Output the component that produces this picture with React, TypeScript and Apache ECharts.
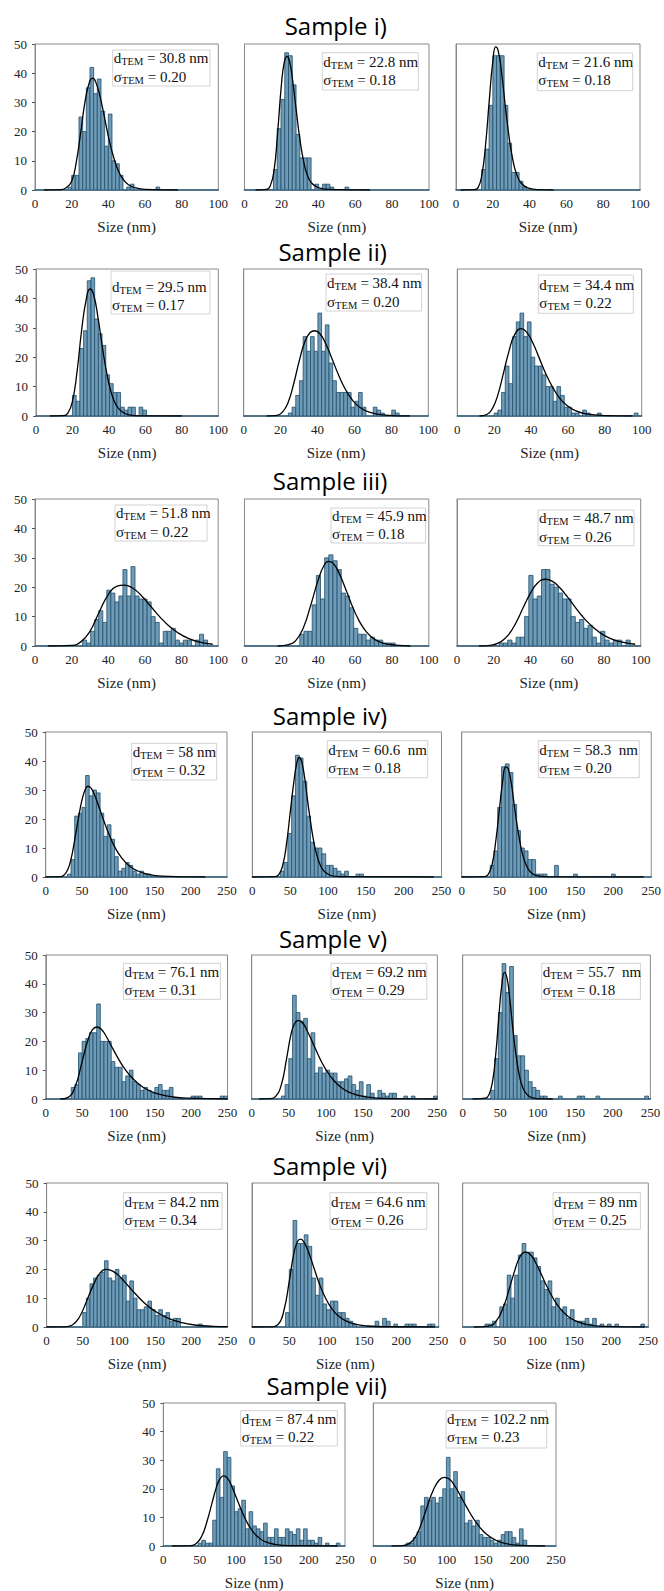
import React, { useEffect, useRef } from 'react';
import * as echarts from 'echarts';

// ---------------- data ----------------
const sampleTitles = ['Sample i)', 'Sample ii)', 'Sample iii)', 'Sample iv)', 'Sample v)', 'Sample vi)', 'Sample vii)'];
const xMaxByRow = [100, 100, 100, 250, 250, 250, 250];
const xIntervalByRow = [20, 20, 20, 50, 50, 50, 50];
const yMax = 50;
const yInterval = 10;
const xName = 'Size (nm)';

const dTEM = ['30.8 nm', '22.8 nm', '21.6 nm', '29.5 nm', '38.4 nm', '34.4 nm', '51.8 nm', '45.9 nm', '48.7 nm',
  '58 nm', '60.6  nm', '58.3  nm', '76.1 nm', '69.2 nm', '55.7  nm', '84.2 nm', '64.6 nm', '89 nm', '87.4 nm', '102.2 nm'];
const sigmaTEM = ['0.20', '0.18', '0.18', '0.17', '0.20', '0.22', '0.22', '0.18', '0.26',
  '0.32', '0.18', '0.20', '0.31', '0.29', '0.18', '0.34', '0.26', '0.25', '0.22', '0.23'];

// histogram bins: first bin edge and bin width per panel (nm)
const binStart = [18, 15.7, 13.9, 20, 24.2, 20, 26, 30, 23, 30, 37, 37.5, 35, 40, 37.5, 50, 45, 30, 48, 45];
const binWidth = [2, 2.04, 2.04, 2.03, 2, 2, 2.2, 2.25, 2.3, 5, 5, 5, 5, 5, 5, 5, 5, 5, 5, 5];

const counts_i_a = [1, 5, 5, 25, 20, 35, 42, 33, 38, 27, 15, 26, 10, 9, 5, 0, 1, 2, 0, 0, 0, 0, 0, 0, 1];
const counts_i_b = [7, 21, 31, 47, 46, 36, 19, 11, 11, 11, 0, 2, 0, 2, 2, 1, 0, 0, 0, 1];
const counts_i_c = [7, 14, 29, 46, 46, 46, 29, 16, 6, 6, 3, 1];
const counts_ii_a = [7, 5, 23, 29, 46, 47, 33, 28, 24, 14, 11, 8, 8, 3, 2, 3, 3, 0, 3, 2];
const counts_ii_b = [1, 3, 7, 12, 27, 22, 27, 22, 35, 22, 31, 18, 12, 8, 8, 8, 8, 3, 5, 8, 3, 0, 0, 3, 2, 1, 0, 0, 2, 1];
const counts_ii_c = [1, 2, 8, 17, 11, 27, 32, 35, 27, 32, 20, 17, 17, 14, 10, 10, 5, 10, 7, 3, 3, 1, 1, 0, 2, 1, 0, 0, 1, 0, 0, 0, 0, 0, 0, 0, 0, 0, 1];
const counts_iii_a = [2, 1, 5, 9, 12, 8, 19, 18, 15, 17, 26, 17, 27, 17, 16, 16, 15, 10, 8, 1, 5, 5, 6, 2, 1, 2, 2, 0, 2, 4, 2];
const counts_iii_b = [4, 5, 5, 14, 24, 16, 30, 31, 29, 26, 18, 17, 13, 6, 4, 4, 2, 3, 2, 2, 1, 1, 1];
const counts_iii_c = [1, 1, 2, 1, 3, 3, 10, 24, 16, 17, 26, 26, 21, 20, 18, 16, 16, 10, 8, 9, 6, 7, 3, 1, 5, 2, 1, 2, 2, 0, 2];
const counts_iv_a = [1, 6, 21, 22, 24, 35, 28, 30, 29, 22, 14, 18, 13, 7, 2, 3, 5, 4, 2, 1, 2, 1, 1];
const counts_iv_b = [2, 5, 15, 28, 42, 41, 33, 21, 12, 10, 10, 8, 4, 4, 3, 2, 1, 2, 0, 0, 1, 1];
const counts_iv_c = [4, 9, 24, 38, 39, 36, 25, 16, 10, 9, 6, 6, 1, 1, 1, 0, 0, 4, 0, 0, 0, 0, 1, 0, 0, 0, 0, 0, 0, 0, 0, 0, 1];
const counts_v_a = [4, 5, 16, 20, 21, 23, 23, 33, 20, 20, 20, 13, 11, 11, 6, 8, 10, 6, 5, 3, 4, 3, 2, 4, 5, 3, 3, 4, 0, 0, 0, 0, 0, 1, 1, 1, 0, 0, 0, 0, 0, 1, 1];
const counts_v_b = [1, 5, 14, 36, 30, 27, 28, 14, 23, 9, 11, 9, 10, 9, 9, 6, 6, 7, 8, 5, 3, 6, 1, 5, 2, 0, 3, 2, 1, 2, 2, 0, 0, 1, 0, 1, 0, 0, 0, 0, 0, 1];
const counts_v_c = [3, 14, 30, 47, 37, 46, 22, 15, 15, 10, 6, 4, 3, 1, 1, 0, 0, 0, 1, 0, 0, 0, 0, 1, 1, 0, 0, 0, 1, 0, 0, 0, 0, 0, 0, 0, 0, 0, 0, 0, 0, 1];
const counts_vi_a = [5, 10, 15, 17, 18, 19, 23, 17, 16, 20, 17, 18, 9, 16, 10, 6, 6, 7, 9, 6, 4, 6, 4, 5, 2, 3, 3, 0, 0, 0, 0, 0, 1];
const counts_vi_b = [5, 20, 37, 29, 29, 32, 28, 17, 11, 17, 8, 6, 9, 9, 5, 5, 3, 2, 1, 0, 0, 0, 0, 0, 2, 0, 3, 2, 0, 1, 0, 0, 1, 1, 1, 0, 0, 0, 1, 1];
const counts_vi_c = [1, 1, 2, 0, 7, 8, 18, 10, 18, 25, 29, 26, 26, 24, 21, 16, 13, 16, 7, 10, 6, 7, 3, 6, 2, 2, 2, 3, 1, 3, 0, 1, 0, 1, 0, 1, 0, 0, 0, 0, 0, 0, 1];
const counts_vii_a = [1, 2, 1, 1, 9, 27, 17, 33, 31, 21, 12, 13, 16, 6, 12, 7, 6, 5, 8, 3, 3, 6, 3, 3, 6, 5, 4, 6, 2, 6, 2, 2, 1, 3, 0, 1, 0, 0, 1];
const counts_vii_b = [1, 1, 3, 5, 14, 17, 16, 17, 15, 17, 20, 31, 20, 26, 17, 19, 8, 9, 7, 9, 4, 3, 3, 2, 1, 2, 4, 5, 5, 3, 1, 6, 2];

// fitted log-normal curves as [size, count]
const fit_i_a = [[5, 0], [14, 0.1], [17, 0.8], [20, 3], [22.5, 9.5], [25, 20], [27.5, 31], [30, 37.5], [31.5, 38.3], [33, 37.2], [35.5, 32], [38, 24.5], [40.5, 17], [43, 11], [45.5, 6.5], [48, 3.7], [51, 1.8], [55, 0.7], [60, 0.2], [78, 0]];
const fit_i_b = [[6, 0], [12, 0.2], [14, 1.5], [16, 6.5], [18, 20], [20, 36], [21.5, 43.5], [23, 45.8], [24.5, 43.8], [26, 38], [28, 27.5], [30, 17.5], [32, 10], [34, 5.2], [36.5, 2.3], [40, 0.8], [45, 0.2], [68, 0]];
const fit_i_c = [[2.5, 0], [10, 0.1], [12, 0.8], [14, 5], [16, 15], [18, 30], [20, 44], [21.6, 49], [23, 47.5], [25, 39], [27, 27.5], [29, 17.5], [31, 10], [33, 5.3], [35.5, 2.3], [39, 0.7], [44, 0.15], [53, 0]];
const fit_ii_a = [[7.7, 0], [15, 0.1], [17.5, 1], [20, 5], [22.5, 15], [25, 29], [27.5, 39.5], [29.6, 43.2], [31.5, 41.5], [34, 33.5], [36.5, 23], [39, 14], [41.5, 7.5], [44, 3.7], [47, 1.5], [51, 0.4], [57, 0.05], [80, 0]];
const fit_ii_b = [[12.5, 0], [18, 0.2], [21, 1.3], [24, 4.5], [27, 10.8], [30, 18.5], [33, 25], [36, 28.4], [38.6, 29], [41.5, 27.8], [44.5, 24.5], [48, 19.2], [51.5, 13.8], [55, 9.2], [59, 5.3], [63, 2.9], [68, 1.3], [75, 0.4], [90, 0]];
const fit_ii_c = [[12, 0], [16, 0.5], [19, 2.5], [22, 7.2], [25, 14.5], [28, 22], [31, 27.5], [34.5, 29.7], [37.5, 28.6], [41, 24.8], [44.5, 19.6], [48, 14.4], [51.5, 10], [55, 6.5], [59, 3.8], [64, 1.8], [70, 0.7], [80, 0.15], [95, 0]];
const fit_iii_a = [[7, 0], [20, 0.2], [25, 1.4], [30, 5], [35, 11.5], [40, 17.5], [44.5, 20.3], [48.7, 20.7], [53, 19.8], [58, 17.2], [63, 13.6], [68, 10], [73, 6.9], [78, 4.5], [84, 2.5], [90, 1.3], [97, 0.6]];
const fit_iii_b = [[18, 0], [24, 0.5], [28, 2], [32, 6.3], [36, 14], [40, 22.5], [43, 27.2], [45.5, 28.8], [48, 28.2], [51, 25.2], [54.5, 20], [58, 14.3], [62, 8.8], [66, 4.9], [70, 2.5], [75, 1], [82, 0.3], [90, 0]];
const fit_iii_c = [[12, 0], [19, 0.3], [24, 1.5], [28, 3.8], [32, 7.8], [36, 13], [40, 18], [44, 21.5], [48.2, 22.7], [52, 22], [56, 19.8], [60, 16.8], [64, 13.5], [68, 10.3], [72, 7.6], [77, 4.9], [83, 2.7], [90, 1.3], [97, 0.6]];
const fit_iv_a = [[0, 0], [20, 0.1], [25, 0.6], [30, 2.3], [35, 6.3], [40, 12.8], [45, 20], [50, 26.5], [55, 30.5], [58, 31.3], [62, 30.8], [67, 28.5], [73, 24.5], [80, 19.5], [88, 14.3], [96, 10], [105, 6.5], [115, 3.9], [125, 2.3], [140, 1], [160, 0.3], [220, 0]];
const fit_iv_b = [[0, 0], [30, 0.1], [35, 0.8], [40, 3.8], [45, 11], [50, 22], [55, 33], [59, 39.5], [62, 41.2], [65, 40], [69, 34.5], [73, 26.5], [77, 19], [81, 12.5], [85, 7.8], [90, 4], [95, 2], [103, 0.6], [115, 0.1], [240, 0]];
const fit_iv_c = [[0, 0], [30, 0.1], [35, 0.9], [40, 4.2], [45, 12.5], [50, 24], [54, 33], [58, 38], [61, 37.5], [65, 33], [69, 25.5], [73, 18], [77, 11.8], [81, 7.2], [86, 3.6], [92, 1.4], [100, 0.4], [115, 0.05], [240, 0]];
const fit_v_a = [[20, 0], [30, 0.5], [40, 4], [50, 13], [58, 20.5], [64, 24], [70, 25], [76, 24.3], [83, 21.8], [90, 18.5], [98, 14.8], [106, 11.4], [115, 8.4], [125, 5.8], [135, 3.9], [145, 2.6], [158, 1.5], [175, 0.7], [195, 0.3], [250, 0]];
const fit_v_b = [[10, 0], [25, 0.1], [32, 0.8], [40, 5], [47, 14], [53, 22.5], [58, 26.3], [63, 27.3], [69, 26.3], [76, 23], [84, 18.5], [92, 14], [100, 10.2], [110, 6.6], [120, 4.1], [130, 2.5], [145, 1.2], [165, 0.4], [190, 0.1], [250, 0]];
const fit_v_c = [[13, 0], [30, 0.3], [35, 1.5], [40, 6.5], [44, 15.5], [48, 28], [52, 39.5], [55.7, 44], [59, 42], [62, 36.5], [65, 29], [68, 21.5], [72, 13.5], [76, 7.5], [80, 4], [85, 1.8], [92, 0.5], [105, 0.05], [120, 0]];
const fit_vi_a = [[0, 0], [25, 0.05], [35, 0.6], [45, 3.3], [55, 8.8], [65, 14.8], [74, 18.8], [83, 20], [92, 19.3], [102, 17.3], [112, 14.5], [122, 11.7], [132, 9.1], [142, 6.9], [155, 4.7], [170, 2.8], [185, 1.6], [205, 0.7], [230, 0.25], [250, 0.1]];
const fit_vi_b = [[0, 0], [25, 0.05], [35, 0.9], [43, 6], [50, 16], [56, 25.5], [61, 29.7], [65, 30.5], [70, 29.3], [76, 25.8], [83, 20.5], [90, 15.2], [98, 10.3], [106, 6.7], [115, 4], [125, 2.2], [138, 1], [155, 0.35], [180, 0.08], [245, 0]];
const fit_vi_c = [[15, 0], [35, 0.3], [45, 2], [55, 7], [63, 13.5], [70, 19.5], [77, 24.3], [84, 26], [91, 25.2], [98, 22.5], [106, 18.2], [114, 13.8], [122, 9.9], [130, 6.8], [140, 4.1], [152, 2.1], [168, 0.8], [190, 0.2], [245, 0]];
const fit_vii_a = [[12, 0], [35, 0.05], [45, 0.8], [53, 3.5], [60, 8.5], [67, 15], [73, 20.5], [78, 23.5], [83, 24.5], [88, 23.8], [94, 21], [100, 17.2], [107, 12.8], [114, 8.9], [122, 5.5], [130, 3.2], [140, 1.5], [155, 0.5], [175, 0.1], [240, 0]];
const fit_vii_b = [[25, 0], [40, 0.1], [50, 1], [58, 3.3], [66, 8], [74, 14], [82, 19.5], [90, 23], [97, 24], [104, 23.4], [112, 20.8], [120, 17.2], [128, 13.5], [136, 10], [145, 6.8], [155, 4.1], [167, 2.1], [180, 0.9], [200, 0.25], [235, 0]];

const countsList = [counts_i_a, counts_i_b, counts_i_c, counts_ii_a, counts_ii_b, counts_ii_c, counts_iii_a, counts_iii_b, counts_iii_c,
  counts_iv_a, counts_iv_b, counts_iv_c, counts_v_a, counts_v_b, counts_v_c, counts_vi_a, counts_vi_b, counts_vi_c, counts_vii_a, counts_vii_b];
const fitList = [fit_i_a, fit_i_b, fit_i_c, fit_ii_a, fit_ii_b, fit_ii_c, fit_iii_a, fit_iii_b, fit_iii_c,
  fit_iv_a, fit_iv_b, fit_iv_c, fit_v_a, fit_v_b, fit_v_c, fit_vi_a, fit_vi_b, fit_vi_c, fit_vii_a, fit_vii_b];

// ---------------- layout (pixels) ----------------
const rowTop = [44, 269, 499, 732, 955, 1183, 1403];
const rowHeight = [146, 147, 147, 145, 144, 144, 144];
const colLeft = [[35, 244.5, 456], [36, 243.7, 457.3], [35, 244.5, 457], [45.7, 252.3, 461.7], [45.8, 251.7, 462.7], [46.6, 252, 462.7], [163.3, 373.3]];
const colRight = [[218.3, 429, 640], [218.3, 428.3, 641.7], [218.2, 428.8, 640.7], [227, 441.5, 651.7], [227.5, 437.3, 650.4], [227.5, 438.6, 648.3], [345, 556]];
const titleX = [335.8, 332.6, 330, 330, 333, 330, 326.7];
const titleY = [25, 251.7, 480, 715, 938, 1165, 1385];
const boxRect = [
  [112.7, 50, 97.3, 36], [322.3, 52.7, 96, 37.3], [537.3, 53, 95.4, 37.7],
  [111, 271, 99, 43], [326, 274, 95.7, 37], [538.3, 275, 95, 38.3],
  [115, 505, 92, 36], [331, 508, 94.5, 35], [538, 510, 96, 35.7],
  [131.7, 743.3, 85, 36.7], [327.3, 740.7, 100.4, 37], [538.3, 740.7, 101, 37],
  [123.4, 963.3, 97, 36], [331, 963.3, 95.8, 36], [541.7, 963.3, 98.7, 36],
  [123.4, 1192.7, 98.6, 36.6], [330, 1192.7, 96.8, 36.6], [553, 1192.7, 87.4, 36.6],
  [240.7, 1410.7, 96.6, 35.3], [446, 1410.7, 100.7, 37.3],
];
const textLine1Y = [58.3, 61.7, 61.7, 286.7, 283.3, 285, 513.3, 516, 518.3, 751.7, 750, 750, 971.7, 971.7, 971.7, 1201.7, 1201.7, 1201.7, 1419, 1419];

const SERIF = 'Liberation Serif';
const SANS = 'Open Sans';
const BAR_FILL = '#6f9bb6';
const BAR_EDGE = '#214f6d';
const FRAME = '#8a8a8a';

function buildOption() {
  const panelRow: number[] = [];
  const panelCol: number[] = [];
  rowTop.forEach((_, r) => {
    colLeft[r].forEach((_, c) => { panelRow.push(r); panelCol.push(c); });
  });

  const grids: any[] = [];
  const xAxes: any[] = [];
  const yAxes: any[] = [];
  const series: any[] = [];
  const graphics: any[] = [];

  panelRow.forEach((r, i) => {
    const c = panelCol[i];
    const left = colLeft[r][c];
    const width = colRight[r][c] - left;
    grids.push({ left, top: rowTop[r], width, height: rowHeight[r], show: true, borderColor: FRAME, borderWidth: 1, backgroundColor: 'transparent' });
    xAxes.push({
      gridIndex: i, type: 'value', min: 0, max: xMaxByRow[r], interval: xIntervalByRow[r],
      axisLine: { show: true, lineStyle: { color: '#2b5a77', width: 1.5 } },
      axisTick: { show: false },
      splitLine: { show: false },
      axisLabel: { fontFamily: SERIF, fontSize: 13, color: '#222', margin: 7 },
      name: xName, nameLocation: 'middle', nameGap: 29,
      nameTextStyle: { fontFamily: SERIF, fontSize: 15, color: '#222' },
    });
    yAxes.push({
      gridIndex: i, type: 'value', min: 0, max: yMax, interval: yInterval,
      axisLine: { show: true, lineStyle: { color: FRAME, width: 1 } },
      axisTick: { show: c === 0, length: 3, lineStyle: { color: '#555' } },
      splitLine: { show: false },
      axisLabel: { show: c === 0, fontFamily: SERIF, fontSize: 13, color: '#222', margin: 8 },
    });
    const data = countsList[i]
      .map((v, k) => [binStart[i] + k * binWidth[i], binStart[i] + (k + 1) * binWidth[i], v])
      .filter((d) => d[2] > 0);
    series.push({
      type: 'custom', xAxisIndex: i, yAxisIndex: i, clip: true,
      encode: { x: [0, 1], y: 2 },
      data,
      renderItem: (params: any, api: any) => {
        const a = api.coord([api.value(0), api.value(2)]);
        const b = api.coord([api.value(1), 0]);
        return {
          type: 'rect',
          shape: { x: a[0], y: a[1], width: b[0] - a[0], height: b[1] - a[1] },
          style: { fill: BAR_FILL, stroke: BAR_EDGE, lineWidth: 0.8 },
        };
      },
      z: 2,
    });
    series.push({
      type: 'line', xAxisIndex: i, yAxisIndex: i, data: fitList[i], showSymbol: false, symbol: 'none',
      smooth: 0.5, clip: true,
      lineStyle: { color: '#000', width: 1.3 }, z: 5,
    });

    const [bx, by, bw, bh] = boxRect[i];
    graphics.push({
      type: 'rect', z: 100, shape: { x: bx, y: by, width: bw, height: bh },
      style: { fill: '#fff', stroke: '#d2d2d2', lineWidth: 1 },
    });
    const rich = {
      m: { fontFamily: SERIF, fontSize: 15, fill: '#111', lineHeight: 18 },
      s: { fontFamily: SERIF, fontSize: 10.5, fill: '#111', lineHeight: 9, verticalAlign: 'bottom' },
    };
    graphics.push({
      type: 'text', z: 101, x: bx + 1, y: textLine1Y[i],
      style: { text: `{m|d}{s|TEM}{m| = ${dTEM[i]}}`, rich, align: 'left', verticalAlign: 'middle' },
    });
    graphics.push({
      type: 'text', z: 101, x: bx + 1, y: textLine1Y[i] + 18.4,
      style: { text: `{m|σ}{s|TEM}{m| = ${sigmaTEM[i]}}`, rich, align: 'left', verticalAlign: 'middle' },
    });
  });

  sampleTitles.forEach((t, r) => {
    graphics.push({
      type: 'text', z: 100, x: titleX[r], y: titleY[r],
      style: { text: t, fontFamily: SANS, fontSize: 24, fill: '#000', align: 'center', verticalAlign: 'middle' },
    });
  });

  return {
    animation: false,
    backgroundColor: '#fff',
    grid: grids,
    xAxis: xAxes,
    yAxis: yAxes,
    series,
    graphic: graphics,
  };
}

export default function App() {
  const ref = useRef<HTMLDivElement>(null);
  useEffect(() => {
    if (!ref.current) return;
    const chart = echarts.init(ref.current, undefined, { renderer: 'svg', width: 664, height: 1591 });
    chart.setOption(buildOption() as any);
    return () => chart.dispose();
  }, []);
  return <div ref={ref} style={{ position: 'absolute', left: 0, top: 0, width: 664, height: 1591, background: '#fff' }} />;
}
